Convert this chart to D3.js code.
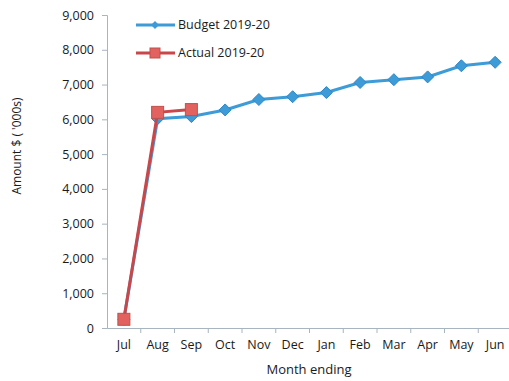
<!DOCTYPE html>
<html><head><meta charset="utf-8">
<script src="https://cdn.jsdelivr.net/npm/d3@7"></script>
<style>
body{margin:0;background:#fff;}
text{font-family:"Open Sans","Liberation Sans",sans-serif;fill:#1a1a1a;}
</style></head>
<body><svg id="c" width="509" height="381"></svg>
<script>
const months = ["Jul","Aug","Sep","Oct","Nov","Dec","Jan","Feb","Mar","Apr","May","Jun"];
const budget = [250,6020,6080,6270,6570,6650,6770,7060,7140,7220,7540,7640];
const actual = [250,6200,6280];
const yTicks = [0,1000,2000,3000,4000,5000,6000,7000,8000,9000];
const seriesNames = ["Budget 2019-20","Actual 2019-20"];

const svg = d3.select("#c");
const x = d3.scaleBand().domain(months).range([107,512]);
const y = d3.scaleLinear().domain([0,9000]).range([328,15]);
const cx = m => x(m) + x.bandwidth()/2;
const diamond = s => `M0,${-s}L${s},0L0,${s}L${-s},0Z`;

// y axis
const ya = svg.append("g").attr("transform","translate(107,0)")
  .call(d3.axisLeft(y).tickValues(yTicks).tickFormat(d3.format(",")).tickSize(5).tickPadding(8));
ya.select(".domain").attr("stroke","#a8b4c0");
ya.selectAll(".tick line").attr("stroke","#a8b4c0");
ya.selectAll("text").attr("font-size",12.5).attr("fill","#1a1a1a");

// x axis
const xa = svg.append("g").attr("transform","translate(0,328)")
  .call(d3.axisBottom(x).tickSize(0).tickPadding(12));
xa.select(".domain").attr("stroke","#a8b4c0");
xa.selectAll("text").attr("font-size",12.5).attr("fill","#1a1a1a");
svg.append("g").selectAll("line").data(months).join("line")
  .attr("x1",d=>x(d)+x.bandwidth()).attr("x2",d=>x(d)+x.bandwidth())
  .attr("y1",328).attr("y2",333).attr("stroke","#a8b4c0");

// titles
svg.append("text").attr("transform","translate(21,146) rotate(-90)")
  .attr("text-anchor","middle").attr("font-size",12).text("Amount $ ( '000s)");
svg.append("text").attr("x",309).attr("y",374).attr("text-anchor","middle")
  .attr("font-size",13).text("Month ending");

const line = d3.line().x((d,i)=>cx(months[i])).y(d=>y(d));

// budget
svg.append("path").datum(budget).attr("d",line).attr("fill","none")
  .attr("stroke","#3d9bd8").attr("stroke-width",3);
svg.append("g").selectAll("path").data(budget).join("path")
  .attr("d",diamond(6))
  .attr("transform",(d,i)=>`translate(${cx(months[i])},${y(d)})`)
  .attr("fill","#3d9bd8").attr("stroke","#2f86c4").attr("stroke-width",1);

// actual
svg.append("path").datum(actual).attr("d",line).attr("fill","none")
  .attr("stroke","#c9474a").attr("stroke-width",3);
svg.append("g").selectAll("rect").data(actual).join("rect")
  .attr("x",(d,i)=>cx(months[i])-6).attr("y",d=>y(d)-6)
  .attr("width",12).attr("height",12)
  .attr("fill","#e2625f").attr("stroke","#c0504d").attr("stroke-width",1);

// legend
const lg = svg.append("g");
const ly = [25,53];
const colors = ["#3d9bd8","#c9474a"];
seriesNames.forEach((n,i)=>{
  lg.append("line").attr("x1",136).attr("x2",175).attr("y1",ly[i]).attr("y2",ly[i])
    .attr("stroke",colors[i]).attr("stroke-width",3);
  if(i===0){
    lg.append("path").attr("d",diamond(4))
      .attr("transform",`translate(155,${ly[i]})`).attr("fill","#3d9bd8");
  } else {
    lg.append("rect").attr("x",150).attr("y",ly[i]-5).attr("width",10).attr("height",10)
      .attr("fill","#e2625f").attr("stroke","#c0504d");
  }
  lg.append("text").attr("x",178).attr("y",ly[i]+4).attr("font-size",12.5).text(n);
});
</script></body></html>
